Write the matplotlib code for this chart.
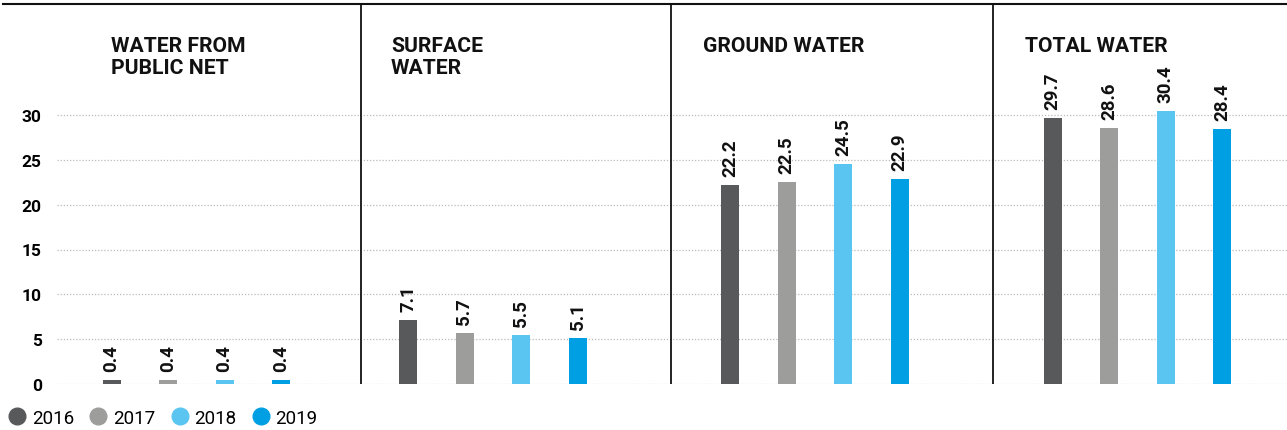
import matplotlib
matplotlib.use("Agg")
import matplotlib.pyplot as plt
from matplotlib.lines import Line2D

plt.rcParams["font.family"] = ["Roboto", "DejaVu Sans"]

# Water withdrawal by source and year
categories = ["WATER FROM\nPUBLIC NET", "SURFACE\nWATER", "GROUND WATER", "TOTAL WATER"]
years = ["2016", "2017", "2018", "2019"]
values = {
    "2016": [0.4, 7.1, 22.2, 29.7],
    "2017": [0.4, 5.7, 22.5, 28.6],
    "2018": [0.4, 5.5, 24.5, 30.4],
    "2019": [0.4, 5.1, 22.9, 28.4],
}
yticks = [0, 5, 10, 15, 20, 25, 30]
colors = ["#58595b", "#9d9d9c", "#5bc5f2", "#009fe3"]

# layout (x in pixel-like units across the figure)
W, H = 1287, 431
panel_left = [57, 361, 671, 993]
first_bar = [54.5, 47, 59, 59.5]
title_x = [111, 391, 703, 1025]
spacing = 56.5
bar_w = 18
y0_px, ytop_px, px_per_unit = 385, 5, 269 / 30

fig = plt.figure(figsize=(W / 100, H / 100), dpi=100)
ax = fig.add_axes([57 / W, (H - y0_px) / H, (W - 57) / W, (y0_px - ytop_px) / H])
ax.set_xlim(57, W)
ax.set_ylim(0, (y0_px - ytop_px) / px_per_unit)

for i, year in enumerate(years):
    xs = [panel_left[g] + first_bar[g] + i * spacing for g in range(len(categories))]
    bars = ax.bar(xs, values[year], width=bar_w, color=colors[i], zorder=3)
    for rect, v in zip(bars, values[year]):
        ax.annotate(f"{v:.1f}", (rect.get_x() + rect.get_width() / 2, v),
                    xytext=(0, 9), textcoords="offset pixels",
                    rotation=90, ha="center", va="bottom",
                    fontsize=13.5, fontweight="bold", color="#111111")

# panel separators
for x in panel_left[1:]:
    ax.axvline(x, color="#111111", lw=1.3, zorder=4)

ax.set_yticks(yticks)
ax.set_yticklabels([str(t) for t in yticks], fontsize=12.5, fontweight="bold")
ax.tick_params(axis="y", length=0, pad=11)
ax.set_xticks([])
ax.yaxis.grid(True, linestyle=(0, (1, 1.5)), color="#bbbbbb", lw=0.9, zorder=0)
for s in ax.spines.values():
    s.set_visible(False)

# top rule
fig.add_artist(Line2D([3 / W, 1], [1 - 5 / H, 1 - 5 / H], color="#111111", lw=1.5))

for tx, cat in zip(title_x, categories):
    fig.text(tx / W, 1 - 37 / H, cat, ha="left", va="top",
             fontsize=15.2, fontweight="bold", color="#111111", linespacing=1.22)

handles = [Line2D([], [], marker="o", linestyle="none", markersize=12,
                  markerfacecolor=c, markeredgecolor=c) for c in colors]
fig.legend(handles, years, loc="center left", bbox_to_anchor=(2 / W, 1 - 419 / H),
           ncol=4, frameon=False, fontsize=13.5, handletextpad=0.3,
           columnspacing=0.78, borderaxespad=0, borderpad=0.3, handlelength=1.0)

fig.savefig("out.png", dpi=100)
